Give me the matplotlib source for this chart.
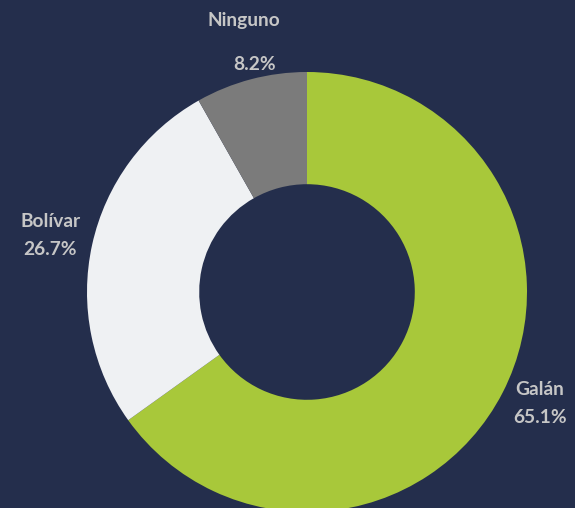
import numpy as np
import matplotlib
matplotlib.use("Agg")
import matplotlib.pyplot as plt

# ── Data ─────────────────────────────────────────────
labels = ["Galán", "Bolívar", "Ninguno"]
shares = [65.1, 26.7, 8.2]
colors = ["#a8c83a", "#eff1f3", "#7b7b7b"]

BG = "#242e4c"
TEXT = "#c6c6c6"

fig = plt.figure(figsize=(5.75, 5.08), dpi=100, facecolor=BG)
ax = fig.add_axes([0, 0, 1, 1])
ax.set_facecolor(BG)

center = (307, -292)
radius = 220

# clockwise from 12 o'clock: Galán, Bolívar, Ninguno
wedges, _ = ax.pie(shares, colors=colors, startangle=90, counterclock=False,
                   center=center, radius=radius,
                   wedgeprops=dict(width=radius * 0.51, edgecolor="none"))

# pie() resets limits, so set the pixel-like frame afterwards
ax.set_xlim(0, 575)
ax.set_ylim(-508, 0)
ax.set_aspect("equal")
ax.axis("off")

font = dict(family=["Lato", "DejaVu Sans"], fontweight="bold", fontsize=13.8,
            color=TEXT, ha="center", va="center")

# small nudges (px) so labels sit where the original renderer put them
nudge = {"Galán": (0, 8), "Bolívar": (-1, 0), "Ninguno": (8, 0)}

for w, name, v in zip(wedges, labels, shares):
    mid = np.deg2rad((w.theta1 + w.theta2) / 2)
    dx, dy = nudge[name]
    if name == "Ninguno":
        for dist, txt in [(1.275, name), (1.07, f"{v}%")]:
            ax.text(center[0] + radius * dist * np.cos(mid) + dx,
                    center[1] + radius * dist * np.sin(mid) + dy, txt, **font)
    else:
        dist = 1.19
        ax.text(center[0] + radius * dist * np.cos(mid) + dx,
                center[1] + radius * dist * np.sin(mid) + dy,
                f"{name}\n{v}%", linespacing=1.75, **font)

fig.savefig("out.png", dpi=100, facecolor=BG)
